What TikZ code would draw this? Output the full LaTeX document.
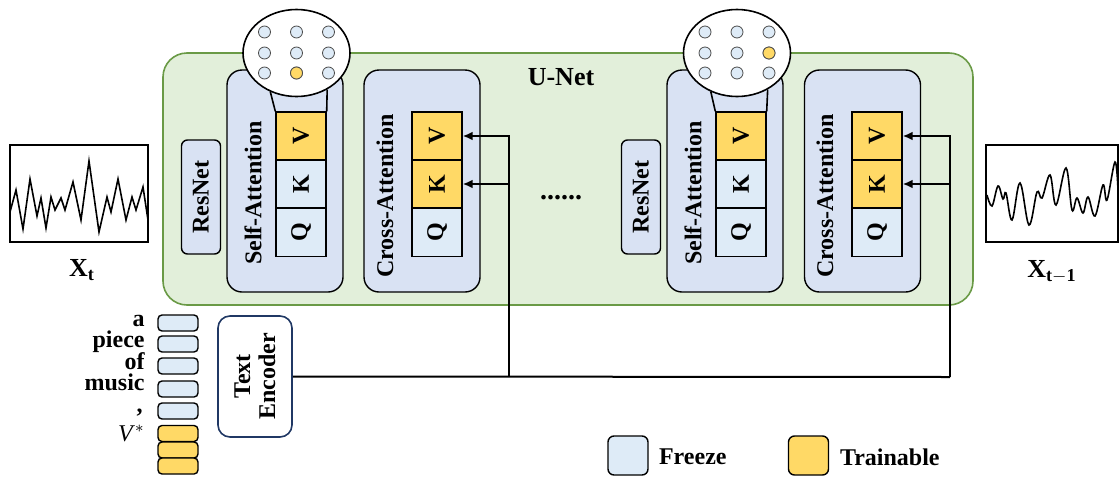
\documentclass[tikz,border=0pt]{standalone}
\usepackage{fontspec}
\setmainfont{Liberation Serif}
\usepackage{tikz}
\usetikzlibrary{shapes.geometric, arrows.meta, positioning, calc}
\usepackage{xcolor}
\definecolor{UNetGreen}{HTML}{E2EFDA}
\definecolor{UNetBorder}{HTML}{6A9A46}
\definecolor{AttnBlue}{HTML}{D9E2F3}
\definecolor{FreezeBlue}{HTML}{DEEBF7}
\definecolor{TrainYellow}{HTML}{FFD966}
\definecolor{EncoderNavy}{HTML}{203864}
\newcommand{\labelfont}{\fontsize{12}{12.5}\selectfont\bfseries}
\tikzset{
    % Box styles
    unet/.style={
        rectangle,
        rounded corners=12pt,
        draw=UNetBorder,
        fill=UNetGreen,
        line width=0.8pt,
        minimum width=405pt,
        minimum height=126pt
    },
    attnblock/.style={
        rectangle,
        rounded corners=7.5pt,
        draw=black,
        fill=AttnBlue,
        line width=0.7pt,
        minimum width=58pt,
        minimum height=111pt
    },
    resblock/.style={
        rectangle,
        rounded corners=3pt,
        draw=black,
        fill=AttnBlue,
        line width=0.7pt,
        rotate=90,
        minimum width=57pt,
        minimum height=19.5pt,
        inner sep=0pt,
        font=\labelfont
    },
    frozencell/.style={
        rectangle,
        draw=black,
        fill=FreezeBlue,
        line width=0.7pt,
        rotate=90,
        minimum width=24pt,
        minimum height=25pt,
        inner sep=0pt,
        font=\labelfont
    },
    traincell/.style={frozencell, fill=TrainYellow},
    blocklabel/.style={rotate=90, font=\labelfont, inner sep=0pt},
    magnifier/.style={
        ellipse,
        draw=black,
        fill=white,
        line width=0.8pt,
        minimum width=53.5pt,
        minimum height=43.5pt,
        inner sep=0pt
    },
    neuron/.style={
        circle,
        draw=black!70,
        fill=FreezeBlue,
        line width=0.4pt,
        minimum size=6pt,
        inner sep=0pt
    },
    activeneuron/.style={neuron, fill=TrainYellow},
    token/.style={
        rectangle,
        rounded corners=2pt,
        draw=black,
        fill=FreezeBlue,
        line width=0.7pt,
        minimum width=20pt,
        minimum height=8pt,
        inner sep=0pt
    },
    traintoken/.style={token, fill=TrainYellow},
    word/.style={anchor=mid east, font=\labelfont, inner sep=0pt},
    encoder/.style={
        rectangle,
        rounded corners=6pt,
        draw=EncoderNavy,
        fill=white,
        line width=0.8pt,
        rotate=90,
        minimum width=60.5pt,
        minimum height=37pt,
        align=center,
        font=\labelfont
    },
    signalbox/.style={
        rectangle,
        draw=black,
        line width=0.7pt,
        minimum width=69pt,
        minimum height=48.5pt
    },
    legendbox/.style={
        rectangle,
        rounded corners=3pt,
        draw=black,
        line width=0.7pt,
        minimum width=20pt,
        minimum height=19.5pt
    },
    % Connector styles
    arrow/.style={
        -{Latex[length=5pt,width=4.5pt]},
        line width=1pt,
        draw=black
    },
    wire/.style={
        line width=1pt,
        draw=black
    },
    zoomline/.style={
        line width=0.8pt,
        draw=black
    }
}

\begin{document}
\begin{tikzpicture}[x=0.5pt, y=-0.5pt]
    \useasboundingbox (0,0) rectangle (1119,477);

    \node[unet] (unet) at (568,179) {};
    \node[font=\fontsize{13}{13}\selectfont\bfseries] (unetlabel) at (561,77) {U-Net};

    % noisy input and denoised output
    \node[signalbox] (xin) at (79,193.5) {};
    \draw[line width=0.8pt] plot coordinates {(10,212) (16,190) (23,229) (30,179) (37,216) (41,198) (46,228) (51,197) (55,210) (61,198) (65,210) (73,182) (81,220) (89,161) (99,232) (107,197) (111,212) (118,179) (126,220) (132,197) (136,210) (143,187) (148,220)};
    \node (xinlabel) at (82,270) {\fontsize{13}{13}\selectfont$\mathbf{X}_{\mathbf{t}}$};

    \node[signalbox, minimum width=66pt] (xout) at (1052,193.5) {};
    \draw[line width=0.8pt] plot[smooth, tension=0.6] coordinates {(987,195) (992,206) (998,186) (1003,199) (1006,193) (1012,220) (1020,183) (1029,225) (1037,192) (1042,198) (1050,175) (1056,205) (1066,168) (1072,210) (1077,198) (1083,213) (1088,197) (1095,216) (1103,185) (1107,200) (1115,162) (1118,190)};
    \node (xoutlabel) at (1052,272) {\fontsize{13}{13}\selectfont$\mathbf{X}_{\mathbf{t-1}}$};

    % first group
    \node[resblock] (res1) at (201,197) {ResNet};
    \node[attnblock] (self1) at (285,181) {};
    \node[blocklabel] (selflabel1) at (253,193) {Self-Attention};
    \node[traincell] (sv1) at (301,136) {V};
    \node[frozencell] (sk1) at (301,184) {K};
    \node[frozencell] (sq1) at (301,232.5) {Q};
    \node[attnblock] (cross1) at (422,181) {};
    \node[blocklabel] (crosslabel1) at (385,196) {Cross-Attention};
    \node[traincell] (cv1) at (437,136) {V};
    \node[traincell] (ck1) at (437,184) {K};
    \node[frozencell] (cq1) at (437,232.5) {Q};

    \node[magnifier] (lens1) at (296.5,53) {};
    \draw[zoomline] (lens1.-124) -- (sv1.north east);
    \draw[zoomline] (lens1.-50) -- (sv1.south east);
    \foreach \dx in {-32,0,32}
        \foreach \dy in {-21,0,20}
            \node[neuron] at ($(lens1.center)+(\dx,\dy)$) {};
    \node[activeneuron] (w1) at ($(lens1.center)+(0,20)$) {};

    \node[font=\fontsize{14}{14}\selectfont\bfseries, anchor=base] (more) at (561,199) {......};

    % second group
    \node[resblock] (res2) at (641,197) {ResNet};
    \node[attnblock] (self2) at (725,181) {};
    \node[blocklabel] (selflabel2) at (693,193) {Self-Attention};
    \node[traincell] (sv2) at (741,136) {V};
    \node[frozencell] (sk2) at (741,184) {K};
    \node[frozencell] (sq2) at (741,232.5) {Q};
    \node[attnblock] (cross2) at (862.5,181) {};
    \node[blocklabel] (crosslabel2) at (825,196) {Cross-Attention};
    \node[traincell] (cv2) at (877,136) {V};
    \node[traincell] (ck2) at (877,184) {K};
    \node[frozencell] (cq2) at (877,232.5) {Q};

    \node[magnifier] (lens2) at (737,53) {};
    \draw[zoomline] (lens2.-124) -- (sv2.north east);
    \draw[zoomline] (lens2.-50) -- (sv2.south east);
    \foreach \dx in {-32,0,32}
        \foreach \dy in {-21,0,20}
            \node[neuron] at ($(lens2.center)+(\dx,\dy)$) {};
    \node[activeneuron] (w2) at ($(lens2.center)+(32,0)$) {};

    % prompt tokens
    \node[token] (t1) at (178,323) {};
    \node[token] (t2) at (178,344) {};
    \node[token] (t3) at (178,366) {};
    \node[token] (t4) at (178,389) {};
    \node[token] (t5) at (178,411) {};
    \node[traintoken] (t6) at (178,433.5) {};
    \node[traintoken] (t7) at (178,450) {};
    \node[traintoken] (t8) at (178,466) {};
    \node[word] (w-a) at (145,322) {a};
    \node[word] (w-piece) at (145,343) {piece};
    \node[word] (w-of) at (145,365) {of};
    \node[word] (w-music) at (145,386) {music};
    \node[word] (w-comma) at (143,408) {,};
    \node[word, font=\fontsize{12}{12.5}\selectfont] (w-vstar) at (145,437) {\textit{V}$^{*}$};

    \node[encoder] (enc) at (255,376.5) {Text\\Encoder};

    \coordinate (j1) at (509,377);
    \coordinate (j2) at (950,377);
    \draw[wire] (enc.south) -- (j2);
    \draw[arrow] (j1) |- (cv1.south);
    \draw[arrow] (j1 |- ck1.south) -- (ck1.south);
    \draw[arrow] (j2) |- (cv2.south);
    \draw[arrow] (j2 |- ck2.south) -- (ck2.south);

    % legend
    \node[legendbox, fill=FreezeBlue] (freeze) at (628,455.5) {};
    \node[font=\labelfont, anchor=west] (freezelabel) at (652,457) {Freeze};
    \node[legendbox, fill=TrainYellow] (train) at (808.5,455.5) {};
    \node[font=\labelfont, anchor=west] (trainlabel) at (833,457) {Trainable};
\end{tikzpicture}
\end{document}
